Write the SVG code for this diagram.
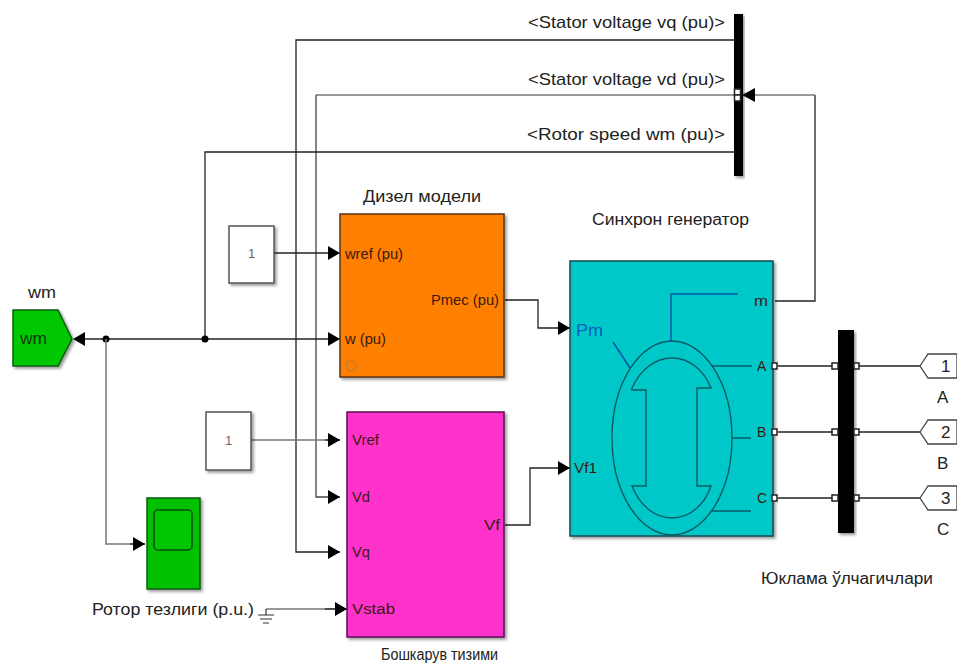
<svg xmlns="http://www.w3.org/2000/svg" width="957" height="664" viewBox="0 0 957 664">
<style>
text{font-family:"Liberation Sans",Arial,sans-serif;font-size:16px;fill:#222}
.in{font-size:14px;fill:#3a1a10}
.blk{stroke-width:1.5}
.c{fill:none;stroke:#222;stroke-width:1.3}
.g{fill:none;stroke:#777;stroke-width:1.5}
.gn{fill:none;stroke:#0a5a64;stroke-width:1.4}
.port{fill:#fff;stroke:#222;stroke-width:1.5}
.bus{fill:#000;filter:url(#s)}
.a{fill:#000}
</style>
<defs>
<filter id="s" x="-10%" y="-10%" width="125%" height="125%"><feDropShadow dx="2" dy="2" stdDeviation="1.5" flood-color="#000" flood-opacity="0.4"/></filter>
<marker id="ar" markerUnits="userSpaceOnUse" markerWidth="13" markerHeight="14" refX="12" refY="7" orient="auto"><path d="M0 0L12 7L0 14Z" fill="#000"/></marker>
</defs>
<rect width="957" height="664" fill="#fff"/>
<g id="connectors">
<path class="c" d="M734 40H296V552H340" marker-end="url(#ar)"/>
<path class="g" d="M734 95H316"/>
<path class="c" d="M316 95V497H340" marker-end="url(#ar)" style="stroke:#444"/>
<path class="c" d="M734 152H205V339"/>
<path class="c" d="M775 301H815V95"/>
<path class="g" d="M815 95H745"/>
<path class="a" d="M742 95L755 88V102Z"/>
<path class="c" d="M274 253H340" marker-end="url(#ar)"/>
<path class="c" d="M85 339H340" marker-end="url(#ar)"/>
<path class="a" d="M73 339L85 332V346Z"/>
<circle class="a" cx="106" cy="339" r="3.500"/>
<circle class="a" cx="205" cy="339" r="3.500"/>
<path class="g" d="M106 339V544H145"/>
<path class="c" d="M130 544H145" marker-end="url(#ar)"/>
<path class="g" d="M251 440H340"/>
<path class="c" d="M325 440H340" marker-end="url(#ar)"/>
<path class="g" d="M266 609H340"/>
<path class="c" d="M325 609H347" marker-end="url(#ar)"/>
<path class="c" d="M505 525H530V468H570" marker-end="url(#ar)"/>
<path class="c" d="M505 300H538V328H570" marker-end="url(#ar)"/>
<path class="c" d="M778 366H835M855 366H920M778 432H835M855 432H920M778 498H835M855 498H920"/>
</g>
<g id="scope-bus-top"><rect class="bus" x="734" y="14" width="9" height="162"/><rect class="port" x="734.500" y="89" width="6" height="6"/><rect class="port" x="734.500" y="95" width="6" height="6"/></g>
<g id="node-diesel">
<rect x="340" y="214" width="164" height="163" fill="#ff8000" stroke="#5a3010" class="blk" filter="url(#s)"/>
<text class="in" x="345" y="259" textLength="58" lengthAdjust="spacingAndGlyphs">wref (pu)</text>
<text class="in" x="345" y="344" textLength="41" lengthAdjust="spacingAndGlyphs">w (pu)</text>
<text class="in" x="431" y="305" textLength="68" lengthAdjust="spacingAndGlyphs">Pmec (pu)</text>
<circle cx="351" cy="366" r="5" fill="none" stroke="#c87a30" stroke-width="1.5"/>
<text x="363" y="202" textLength="118" lengthAdjust="spacingAndGlyphs">Дизел модели</text>
</g>
<g id="node-control">
<rect x="347" y="412" width="157" height="225" fill="#ff33cc" stroke="#5a1050" class="blk" filter="url(#s)"/>
<text class="in" x="352" y="445" textLength="27" lengthAdjust="spacingAndGlyphs">Vref</text>
<text class="in" x="352" y="502" textLength="18" lengthAdjust="spacingAndGlyphs">Vd</text>
<text class="in" x="352" y="557" textLength="18" lengthAdjust="spacingAndGlyphs">Vq</text>
<text class="in" x="352" y="614" textLength="43" lengthAdjust="spacingAndGlyphs">Vstab</text>
<text class="in" x="484" y="530" textLength="16" lengthAdjust="spacingAndGlyphs">Vf</text>
<text x="381" y="660" textLength="117" lengthAdjust="spacingAndGlyphs">Бошкарув тизими</text>
</g>
<g id="node-generator">
<rect x="570" y="261" width="203" height="275" fill="#00c8c8" stroke="#0a4a50" class="blk" filter="url(#s)"/>
<ellipse class="gn" cx="672" cy="438" rx="60" ry="97"/>
<path class="gn" d="M632 388C640 370 655 358 672 358C689 358 704 370 711 388H697V486H711C704 506 689 518 672 518C655 518 640 506 632 486H646V390H632Z"/>
<path d="M738 294H671V342M613 342L630 368" fill="none" stroke="#0a55a8" stroke-width="1.5"/>
<path class="gn" d="M712 366H752M732 438H751M712 511H751"/>
<text x="576" y="336" style="font-size:17px;fill:#0a5fc0" textLength="27" lengthAdjust="spacingAndGlyphs">Pm</text>
<text class="in" x="574" y="473" textLength="23" lengthAdjust="spacingAndGlyphs">Vf1</text>
<text class="in" x="754" y="306" textLength="14" lengthAdjust="spacingAndGlyphs">m</text>
<text class="in" x="757" y="371">A</text>
<text class="in" x="757" y="437">B</text>
<text class="in" x="757" y="503">C</text>
<rect class="port" x="772" y="363" width="5" height="6"/><rect class="port" x="772" y="429" width="5" height="6"/><rect class="port" x="772" y="495" width="5" height="6"/>
<text x="592" y="225" textLength="157" lengthAdjust="spacingAndGlyphs">Синхрон генератор</text>
</g>
<g id="node-bus-abc">
<rect class="bus" x="838" y="330" width="16" height="203"/>
<rect class="port" x="832" y="363" width="6" height="6"/><rect class="port" x="854" y="363" width="5" height="6"/>
<rect class="port" x="832" y="429" width="6" height="6"/><rect class="port" x="854" y="429" width="5" height="6"/>
<rect class="port" x="832" y="495" width="6" height="6"/><rect class="port" x="854" y="495" width="5" height="6"/>
<text x="761" y="584" textLength="172" lengthAdjust="spacingAndGlyphs">Юклама ўлчагичлари</text>
</g>
<g id="node-const1"><rect x="229" y="226" width="45" height="57" fill="#fff" stroke="#555" class="blk" filter="url(#s)"/><text x="248" y="258" style="font-size:13px;fill:#666">1</text></g>
<g id="node-const2"><rect x="206" y="412" width="45" height="58" fill="#fff" stroke="#555" class="blk" filter="url(#s)"/><text x="225" y="445" style="font-size:13px;fill:#666">1</text></g>
<g id="node-wm">
<path d="M13 310H58L72 339L58 366H13Z" fill="#00c800" stroke="#0a5a14" class="blk" filter="url(#s)"/>
<text x="20" y="344" style="fill:#0a3a10" textLength="27" lengthAdjust="spacingAndGlyphs">wm</text>
<text x="28" y="298" textLength="28" lengthAdjust="spacingAndGlyphs">wm</text>
</g>
<g id="node-scope">
<rect x="147" y="498" width="53" height="91" fill="#00c000" stroke="#0a5a14" class="blk" filter="url(#s)"/>
<rect x="154" y="510" width="38" height="40" rx="4" fill="#00c800" stroke="#0a4a10" stroke-width="1.5"/>
<text x="92" y="615" style="font-size:17px" textLength="162" lengthAdjust="spacingAndGlyphs">Ротор тезлиги (p.u.)</text>
</g>
<g id="node-ground"><path d="M266 609V615M258 615H274M260 619H272M263 623H269" fill="none" stroke="#333" stroke-width="1.2"/></g>
<g id="node-out1"><path d="M920 366L928 354H957V378H928Z" fill="#fff" stroke="#444" stroke-width="1.3"/><text x="941" y="372" style="font-size:17px">1</text><text x="937" y="403" style="font-size:17px">A</text></g>
<g id="node-out2"><path d="M920 432L928 420H957V444H928Z" fill="#fff" stroke="#444" stroke-width="1.3"/><text x="941" y="438" style="font-size:17px">2</text><text x="937" y="469" style="font-size:17px">B</text></g>
<g id="node-out3"><path d="M920 498L928 486H957V510H928Z" fill="#fff" stroke="#444" stroke-width="1.3"/><text x="941" y="504" style="font-size:17px">3</text><text x="937" y="535" style="font-size:17px">C</text></g>
<g id="labels">
<text x="528" y="28" style="font-size:17px" textLength="197" lengthAdjust="spacingAndGlyphs">&lt;Stator voltage  vq (pu)&gt;</text>
<text x="528" y="85" style="font-size:17px" textLength="197" lengthAdjust="spacingAndGlyphs">&lt;Stator voltage  vd (pu)&gt;</text>
<text x="527" y="140" style="font-size:17px" textLength="198" lengthAdjust="spacingAndGlyphs">&lt;Rotor speed  wm  (pu)&gt;</text>
</g>
</svg>
